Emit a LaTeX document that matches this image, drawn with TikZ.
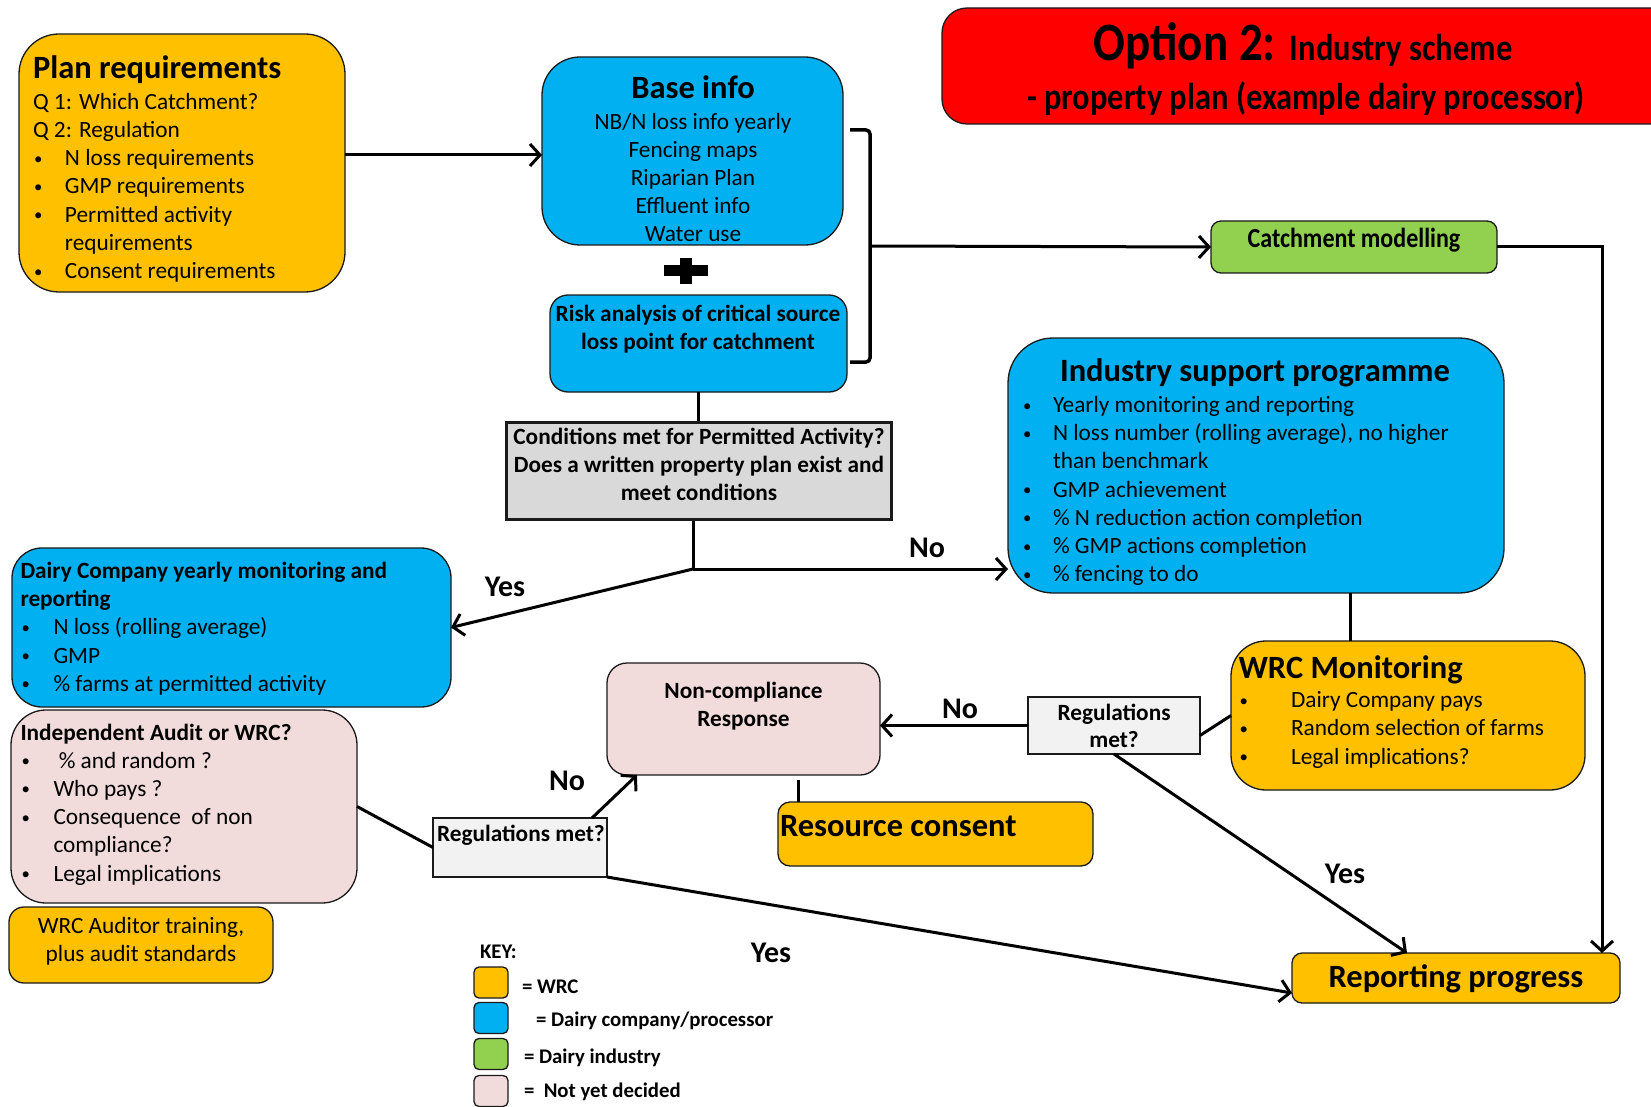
\documentclass[tikz,border=0pt]{standalone}
\usepackage{fontspec}
\setmainfont{Carlito}
\usepackage{graphicx}
\usetikzlibrary{arrows.meta}
\definecolor{cOr}{HTML}{FFC000}
\definecolor{cBl}{HTML}{00B0F0}
\definecolor{cGr}{HTML}{92D050}
\definecolor{cPk}{HTML}{F2DCDB}
\definecolor{cGy}{HTML}{D9D9D9}
\definecolor{cLg}{HTML}{F2F2F2}
\definecolor{cRd}{HTML}{FF0000}
\definecolor{cLn}{HTML}{1A1A1A}
\newcommand{\bi}[1]{\makebox[#1][l]{\hspace{1pt}\raisebox{1.5pt}{\scalebox{0.72}{\textbullet}}}}
\newcommand{\fbody}{\fontsize{23.3}{28.2}\selectfont}
\newcommand{\ftitle}{\fontsize{32.5}{36}\selectfont\bfseries}
\newcommand{\fsmb}{\fontsize{23.3}{28}\selectfont\bfseries}
\newcommand{\flab}{\fontsize{30}{34}\selectfont\bfseries}
\newcommand{\fkey}{\fontsize{20.8}{24}\selectfont\bfseries}
\begin{document}
\begin{tikzpicture}[x=1pt,y=-1pt,
  bx/.style={draw=cLn, line width=1.3pt, inner sep=0pt, outer sep=0pt},
  wrcbox/.style={bx, fill=cOr},
  dcbox/.style={bx, fill=cBl},
  dibox/.style={bx, fill=cGr},
  tbdbox/.style={bx, fill=cPk},
  qbox/.style={bx, fill=cLg},
  txt/.style={inner sep=0pt, outer sep=0pt, font=\fbody},
  lab/.style={inner sep=0pt, outer sep=0pt, font=\flab, anchor=base},
  conn/.style={draw=black, line width=3pt},
  arr/.style={conn, -{Straight Barb[length=10pt,width=22pt]}}
]
\useasboundingbox (0,0) rectangle (1651,1107);
\fill[white] (0,0) rectangle (1651,1107);

% ---------- boxes ----------
\node[bx, fill=cRd, rounded corners=25pt, minimum width=758pt, minimum height=116pt] (title) at (1321,66) {};
\node[wrcbox, rounded corners=40pt, minimum width=326pt, minimum height=258pt] (plan) at (182,163) {};
\node[dcbox, rounded corners=38pt, minimum width=301pt, minimum height=188pt] (base) at (692.5,151) {};
\node[dcbox, rounded corners=18pt, minimum width=297pt, minimum height=97pt] (risk) at (698.5,343.5) {};
\node[dibox, rounded corners=10pt, minimum width=286pt, minimum height=52pt] (catch) at (1354,247) {};
\node[dcbox, rounded corners=45pt, minimum width=496pt, minimum height=255pt] (isp) at (1256,465.5) {};
\node[draw=cLn, line width=3pt, fill=cGy, inner sep=0pt, minimum width=385pt, minimum height=97pt] (cond) at (698.5,470.5) {};
\node[dcbox, rounded corners=30pt, minimum width=439pt, minimum height=159pt] (dcm) at (231.5,627.5) {};
\node[tbdbox, rounded corners=35pt, minimum width=346pt, minimum height=193pt] (ia) at (184,806.5) {};
\node[wrcbox, rounded corners=15pt, minimum width=264pt, minimum height=76pt] (wat) at (141,945) {};
\node[qbox, minimum width=174pt, minimum height=59pt] (regsL) at (520,847.5) {};
\node[tbdbox, rounded corners=20pt, minimum width=273pt, minimum height=112pt] (ncr) at (743.5,719) {};
\node[wrcbox, rounded corners=12pt, minimum width=315pt, minimum height=64pt] (rc) at (935.5,834) {};
\node[qbox, minimum width=172pt, minimum height=57pt] (regsR) at (1114,725.5) {};
\node[wrcbox, rounded corners=35pt, minimum width=354pt, minimum height=149pt] (wrcm) at (1408,715.5) {};
\node[wrcbox, rounded corners=10pt, minimum width=328pt, minimum height=50pt] (report) at (1456,978) {};

% key squares
\node[wrcbox, rounded corners=5pt, minimum width=34pt, minimum height=31pt] (k1) at (491,982.5) {};
\node[dcbox, rounded corners=5pt, minimum width=34pt, minimum height=31pt] (k2) at (491,1018) {};
\node[dibox, rounded corners=5pt, minimum width=34pt, minimum height=31pt] (k3) at (491,1054) {};
\node[tbdbox, rounded corners=5pt, minimum width=34pt, minimum height=31pt] (k4) at (491,1091) {};

% ---------- texts ----------
\node[txt, anchor=base] (titleA) at (1303,61) {\scalebox{1}[1.15]{\bfseries\fontsize{47}{47}\selectfont Option 2: {\fontsize{32.5}{32}\selectfont Industry scheme}}};
\node[txt, anchor=base] (titleB) at (1306,110) {\scalebox{1}[1.15]{\bfseries\fontsize{32.5}{32}\selectfont - property plan (example dairy processor)}};

\node[txt, anchor=base west] (planT) at (33,79) {\begin{tabular}[t]{@{}l@{}}
{\ftitle Plan requirements}\\[2.2pt]
Q 1: Which Catchment?\\
Q 2: Regulation\\
\bi{32pt}N loss requirements\\
\bi{32pt}GMP requirements\\
\bi{32pt}Permitted activity\\
\hspace{32pt}requirements\\
\bi{32pt}Consent requirements
\end{tabular}};

\node[txt, anchor=base] (baseT) at (693,99) {\begin{tabular}[t]{@{}c@{}}
{\ftitle Base info}\\[2pt]
NB/N loss info yearly\\
Fencing maps\\
Riparian Plan\\
Effluent info\\
Water use
\end{tabular}};

\node[txt, anchor=base, font=\fsmb] (riskT) at (698,321.5) {\begin{tabular}[t]{@{}c@{}}
Risk analysis of critical source\\
loss point for catchment
\end{tabular}};

\node[txt, anchor=base, font=\fsmb] (condT) at (699,444) {\begin{tabular}[t]{@{}c@{}}
Conditions met for Permitted Activity?\\
Does a written property plan exist and\\
meet conditions
\end{tabular}};

\node[txt, anchor=base] (catchT) at (1354,248) {\scalebox{1}[1.15]{\bfseries\fontsize{24}{28}\selectfont Catchment modelling}};

\node[txt, anchor=base] (ispH) at (1255,381) {\ftitle Industry support programme};
\node[txt, anchor=base west] (ispT) at (1022,412.5) {\begin{tabular}[t]{@{}l@{}}
\bi{31pt}Yearly monitoring and reporting\\
\bi{31pt}N loss number (rolling average), no higher\\
\hspace{31pt}than benchmark\\
\bi{31pt}GMP achievement\\
\bi{31pt}\% N reduction action completion\\
\bi{31pt}\% GMP actions completion\\
\bi{31pt}\% fencing to do
\end{tabular}};

\node[txt, anchor=base west] (dcmT) at (20.5,578.5) {\begin{tabular}[t]{@{}l@{}}
{\fsmb Dairy Company yearly monitoring and}\\
{\fsmb reporting}\\
\bi{33pt}N loss (rolling average)\\
\bi{33pt}GMP\\
\bi{33pt}\% farms at permitted activity
\end{tabular}};

\node[txt, anchor=base west] (iaT) at (20.5,740) {\begin{tabular}[t]{@{}l@{}}
{\fsmb Independent Audit or WRC?}\\
\bi{33pt}\ \% and random ?\\
\bi{33pt}Who pays ?\\
\bi{33pt}Consequence~ of non\\
\hspace{33pt}compliance?\\
\bi{33pt}Legal implications
\end{tabular}};

\node[txt, anchor=base] (watT) at (141,933) {\begin{tabular}[t]{@{}c@{}}
WRC Auditor training,\\
plus audit standards
\end{tabular}};

\node[txt, anchor=base, font=\fontsize{23.3}{28}\selectfont\bfseries] (ncrT) at (743.5,698.5) {\begin{tabular}[t]{@{}c@{}}
Non-compliance\\
Response
\end{tabular}};

\node[txt, anchor=base west] (rcT) at (780,836) {\ftitle Resource consent};

\node[txt, anchor=base west, font=\fontsize{23.3}{27}\selectfont\bfseries] (regsLT) at (437,841.5) {Regulations met?};
\node[txt, anchor=base, font=\fontsize{23.3}{27}\selectfont\bfseries] (regsRT) at (1114,720.5) {\begin{tabular}[t]{@{}c@{}}
Regulations\\
met?
\end{tabular}};

\node[txt, anchor=base west] (wrcmT) at (1238.5,678) {\begin{tabular}[t]{@{}l@{}}
{\ftitle WRC Monitoring}\\[1.5pt]
\bi{52.5pt}Dairy Company pays\\
\bi{52.5pt}Random selection of farms\\
\bi{52.5pt}Legal implications?
\end{tabular}};

\node[txt, anchor=base] (reportT) at (1456,987) {\ftitle Reporting progress};

% key texts
\node[txt, anchor=base west, font=\fkey] (keyH) at (480,958) {KEY:};
\node[txt, anchor=base west, font=\fkey] (key1) at (522,993) {= WRC};
\node[txt, anchor=base west, font=\fkey] (key2) at (536,1026) {= Dairy company/processor};
\node[txt, anchor=base west, font=\fkey] (key3) at (524,1063) {= Dairy industry};
\node[txt, anchor=base west, font=\fkey] (key4) at (524,1097) {=~ Not yet decided};

% ---------- plus and brace ----------
\fill[black] (664,265) rectangle (708,276);
\fill[black] (680,258) rectangle (692,284);
\draw[line width=3.5pt, rounded corners=4pt] (850,130) -- (870,130) -- (870,362) -- (850,362);
\coordinate (brmid) at (870,246);

% ---------- connectors ----------
\draw[arr] (plan.east |- base.west) ++(0,4) -- ([yshift=-4pt]base.west);
\draw[arr] (brmid) -- (catch.west);
\draw[arr] (catch.east) -| ([xshift=-18pt]report.north east);
\draw[conn] (risk.south) -- (cond.north);
\coordinate (split) at (693,569);
\draw[conn] (cond.south -| split) -- (split);
\draw[arr] (split) -- (isp.west |- split);
\draw[arr] (split) -- (dcm.east);
\draw[conn] ([xshift=94pt]isp.south) -- ([xshift=94pt]isp.south |- wrcm.north);
\draw[conn] (wrcm.west) -- ([yshift=-10pt]regsR.east);
\draw[arr] (regsR.west) -- (ncr.east |- regsR.west);
\draw[arr] (regsR.south) -- ([xshift=-49pt]report.north);
\draw[conn] (ia.east) -- (regsL.west);
\draw[arr] ([xshift=72pt]regsL.north) -- ([xshift=30pt]ncr.south west);
\draw[arr] (regsL.south east) -- ([yshift=-15pt]report.west);
\draw[conn] ([xshift=20pt,yshift=22pt]rc.north west) -- ([xshift=20pt]rc.north west);

% ---------- labels ----------
\node[lab] (lNo1) at (927,557) {No};
\node[lab] (lYes1) at (505,596) {Yes};
\node[lab] (lNo2) at (960,718) {No};
\node[lab] (lNo3) at (567,790) {No};
\node[lab] (lYes2) at (771,962) {Yes};
\node[lab] (lYes3) at (1345,883) {Yes};
\end{tikzpicture}
\end{document}
